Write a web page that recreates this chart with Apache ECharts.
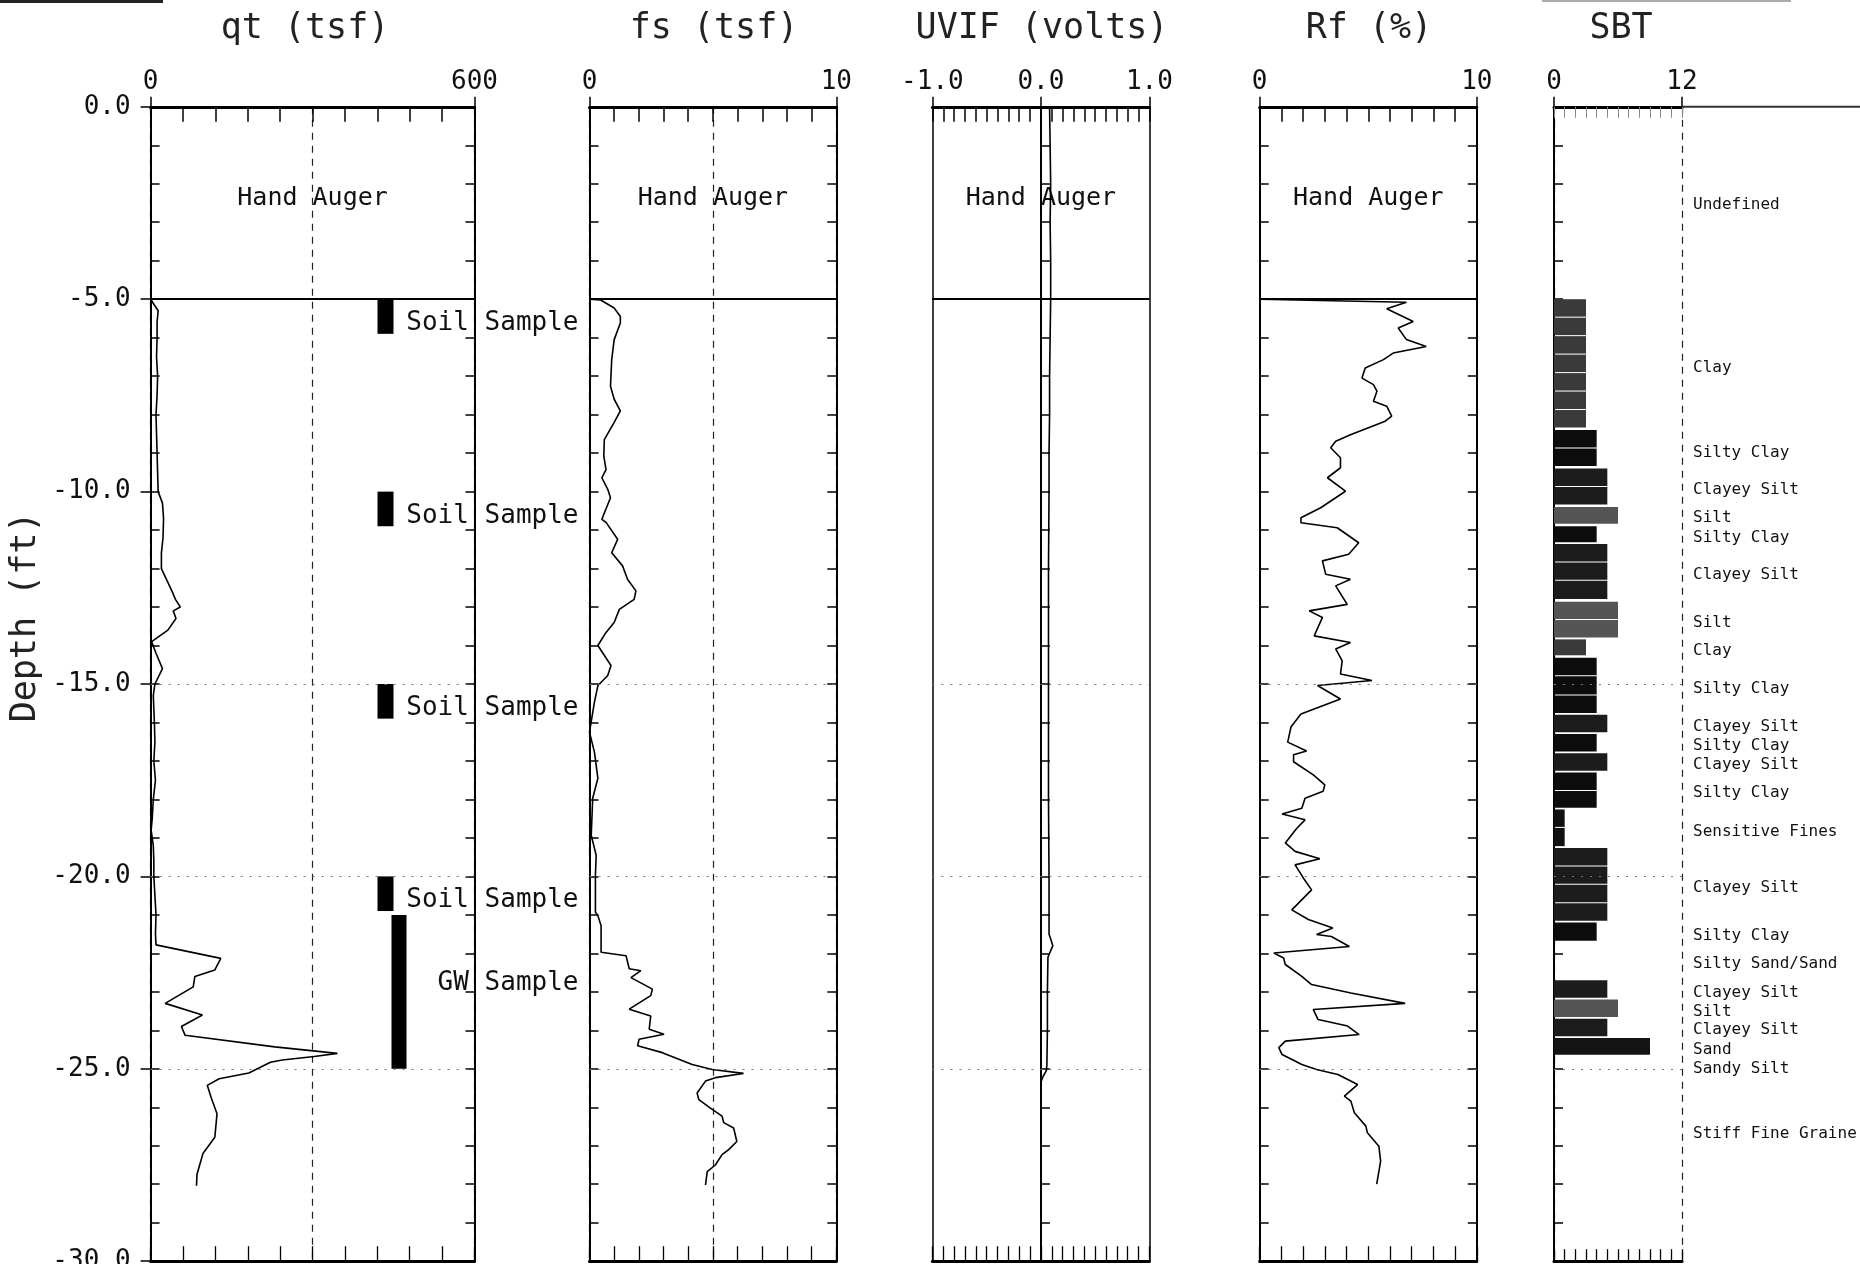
<!DOCTYPE html>
<html><head><meta charset="utf-8">
<script src="https://cdn.jsdelivr.net/npm/echarts@6.0.0/dist/echarts.min.js"></script>
<style>html,body{margin:0;padding:0;background:#fff}#c{width:1860px;height:1264px}</style>
</head><body><div id="c"></div><script>
// ---------------- data ----------------
const qtDepth = [-5.0,-5.3,-5.6,-6.0,-6.5,-7.0,-7.5,-8.0,-8.5,-9.0,-9.5,-10.0,-10.3,-10.7,-11.2,-11.6,-12.0,-12.3,-12.6,-12.8,-13.0,-13.1,-13.3,-13.6,-13.9,-14.2,-14.6,-15.0,-15.3,-16.0,-16.5,-17.0,-17.5,-18.0,-18.5,-18.8,-19.2,-19.6,-20.0,-20.5,-21.0,-21.5,-21.78,-22.13,-22.43,-22.6,-22.87,-23.3,-23.6,-23.9,-24.13,-24.43,-24.6,-24.68,-24.77,-24.83,-25.11,-25.26,-25.43,-25.74,-26.17,-26.78,-27.2,-27.74,-28.04];
const qtValue = [0,14,12,12,11,13,12,10,11,12,13,14,22,24,23,20,20,30,40,46,55,42,47,32,2,10,22,8,5,7,8,6,9,5,3,1,5,6,6,8,10,9,10,130,119,82,79,27,96,57,64,230,346,303,244,222,182,127,105,112,123,119,97,86,85];

const fsDepth = [-5.0,-5.02,-5.23,-5.45,-5.62,-6.05,-6.57,-7.26,-7.6,-7.9,-8.2,-8.65,-9.08,-9.43,-9.64,-9.94,-10.16,-10.72,-10.8,-11.24,-11.59,-11.93,-12.28,-12.58,-12.8,-13.06,-13.4,-13.66,-14.0,-14.52,-14.78,-15.04,-15.47,-16.25,-16.77,-17.45,-17.97,-18.93,-19.45,-19.97,-20.93,-21.02,-21.28,-21.97,-22.06,-22.4,-22.45,-22.63,-22.93,-23.1,-23.45,-23.63,-23.97,-24.1,-24.23,-24.4,-24.58,-24.89,-25.02,-25.12,-25.23,-25.32,-25.63,-25.8,-26.02,-26.23,-26.4,-26.54,-26.89,-27.1,-27.23,-27.5,-27.67,-28.02];
const fsValue = [0,0.45,1.0,1.25,1.25,1.0,0.9,0.85,1.0,1.25,1.0,0.6,0.58,0.67,0.5,0.74,0.85,0.5,0.67,1.14,0.9,1.34,1.54,1.88,1.81,1.21,1.0,0.67,0.34,0.87,0.74,0.34,0.2,0.0,0.2,0.34,0.13,0.07,0.27,0.24,0.24,0.34,0.47,0.47,1.48,1.61,2.08,1.68,2.55,2.48,1.61,2.48,2.42,3.02,2.01,1.95,2.95,4.16,4.97,6.24,5.1,4.7,4.36,4.43,4.9,5.37,5.44,5.84,5.97,5.64,5.37,5.1,4.77,4.7];

const uvifDepth = [0,-1,-2,-3,-4,-5,-6,-7,-8,-9,-10,-12,-14,-16,-18,-20,-21.5,-21.8,-22.1,-23,-24,-24.9,-25.05,-25.2,-25.35];
const uvifValue = [0.08,0.085,0.09,0.085,0.09,0.09,0.085,0.08,0.08,0.075,0.075,0.07,0.07,0.07,0.07,0.075,0.075,0.11,0.065,0.06,0.06,0.055,0.05,0.02,0.0];

const rfDepth = [-5.0,-5.08,-5.25,-5.58,-5.75,-6.05,-6.23,-6.40,-6.57,-6.79,-7.05,-7.22,-7.39,-7.65,-7.78,-8.04,-8.17,-8.52,-8.69,-8.86,-9.12,-9.38,-9.64,-9.99,-10.42,-10.68,-10.81,-10.94,-11.33,-11.63,-11.80,-12.15,-12.28,-12.45,-12.93,-13.10,-13.27,-13.75,-13.92,-14.09,-14.40,-14.74,-14.91,-15.04,-15.39,-15.78,-16.12,-16.51,-16.74,-16.84,-17.02,-17.36,-17.62,-17.79,-17.97,-18.23,-18.38,-18.53,-18.75,-19.13,-19.35,-19.54,-19.70,-20.04,-20.35,-20.87,-21.12,-21.34,-21.51,-21.56,-21.82,-21.99,-22.12,-22.29,-22.60,-22.81,-23.03,-23.30,-23.46,-23.72,-23.89,-24.11,-24.28,-24.45,-24.63,-24.89,-25.02,-25.15,-25.41,-25.71,-25.84,-26.14,-26.49,-26.66,-27.01,-27.40,-28.00];
const rfValue = [0,6.76,5.85,7.07,6.38,6.76,7.67,6.15,5.70,4.86,4.71,5.24,5.40,5.24,5.85,6.08,5.78,4.18,3.50,3.27,3.72,3.72,3.12,3.95,2.81,1.90,1.90,3.57,4.56,4.10,2.89,3.04,4.18,3.50,4.03,2.28,2.89,2.51,4.18,3.50,3.80,3.72,5.17,2.66,3.72,1.90,1.44,1.29,2.16,1.56,1.56,2.47,3.00,2.92,2.09,1.94,1.03,2.09,1.71,1.18,1.63,2.77,1.63,2.01,2.39,1.48,2.24,3.37,2.62,3.30,4.13,0.65,1.10,1.18,1.94,2.39,4.20,6.70,2.47,2.69,4.05,4.58,1.18,0.88,1.03,1.94,2.62,3.60,4.51,3.90,4.20,4.36,4.89,4.96,5.49,5.57,5.39];

const sbtTop    = [-5.00,-5.48,-5.96,-6.44,-6.92,-7.40,-7.88,-8.40,-8.88,-9.40,-9.88,-10.40,-10.90,-11.36,-11.84,-12.32,-12.86,-13.34,-13.84,-14.32,-14.80,-15.30,-15.80,-16.30,-16.80,-17.30,-17.78,-18.26,-18.74,-19.26,-19.74,-20.22,-20.70,-21.20,-21.72,-22.20,-22.70,-23.20,-23.70,-24.20,-24.68];
const sbtBottom = [-5.48,-5.96,-6.44,-6.92,-7.40,-7.88,-8.36,-8.88,-9.36,-9.88,-10.36,-10.86,-11.34,-11.84,-12.32,-12.82,-13.34,-13.82,-14.28,-14.80,-15.30,-15.78,-16.28,-16.78,-17.28,-17.78,-18.24,-18.74,-19.24,-19.74,-20.22,-20.70,-21.18,-21.70,-22.20,-22.68,-23.18,-23.68,-24.18,-24.66,-25.14];
const sbtZone   = [3,3,3,3,3,3,3,4,4,5,5,6,4,5,5,5,6,6,3,4,4,4,5,4,5,4,4,1,1,5,5,5,5,4,8,8,5,6,5,9,7];

const sbtLabelText  = ['Undefined','Clay','Silty Clay','Clayey Silt','Silt','Silty Clay','Clayey Silt','Silt','Clay','Silty Clay','Clayey Silt','Silty Clay','Clayey Silt','Silty Clay','Sensitive Fines','Clayey Silt','Silty Clay','Silty Sand/Sand','Clayey Silt','Silt','Clayey Silt','Sand','Sandy Silt','Stiff Fine Graine'];
const sbtLabelDepth = [-2.56,-6.78,-9.0,-9.95,-10.69,-11.19,-12.17,-13.4,-14.14,-15.13,-16.12,-16.61,-17.1,-17.84,-18.83,-20.31,-21.54,-22.28,-23.02,-23.51,-24.0,-24.5,-24.99,-26.69];

const sampleTop    = [-5.0,-10.0,-15.0,-20.0,-21.0];
const sampleBottom = [-5.9,-10.9,-15.9,-20.9,-25.0];
const sampleKind   = ['Soil','Soil','Soil','Soil','GW'];

const handAugerBottom = -5;
const gridDepths = [-15,-20,-25];
const depthTickLabels = [0,-5,-10,-15,-20,-25,-30];

// ---------------- layout / style ----------------
const FONT = "'DejaVu Sans Mono', monospace";
const GRID_TOP = 106.8, GRID_H = 1154.4;
const panels = [
  {name:'qt (tsf)',     titleX:305,  left:150.6,  width:323.9, min:0,  max:600, minor:60,  label:600, split:300, dec:0, rightTicks:true, auger:true, depth:qtDepth, vals:qtValue},
  {name:'fs (tsf)',     titleX:714,  left:589.5,  width:246.8, min:0,  max:10,  minor:1,   label:10,  split:5,   dec:0, rightTicks:true, auger:true, depth:fsDepth, vals:fsValue},
  {name:'UVIF (volts)', titleX:1042, left:932.4,  width:217,   min:-1, max:1,   minor:0.1, label:1,   split:null,dec:1, zeroAxis:true,  auger:true, depth:uvifDepth, vals:uvifValue},
  {name:'Rf (%)',       titleX:1369, left:1259.7, width:217.1, min:0,  max:10,  minor:1,   label:10,  split:null,dec:0, rightTicks:true, auger:true, depth:rfDepth, vals:rfValue},
  {name:'SBT',          titleX:1621, left:1554,   width:128,   min:0,  max:12,  minor:1,   label:12,  split:12,  dec:0, sbt:true}
];
const zoneColors = {1:'#111111',3:'#3a3a3a',4:'#0c0c0c',5:'#1c1c1c',6:'#555555',9:'#141414'};

const grid = [], xAxis = [], yAxis = [], series = [];

const dotted = gridDepths.map(d => ({yAxis:d, lineStyle:{type:[2,7], color:'#777', width:1}}));

panels.forEach((p, i) => {
  grid.push({left:p.left, top:GRID_TOP, width:p.width, height:GRID_H, outerBoundsMode:'none', containLabel:false});
  const base = {gridIndex:i, type:'value', min:p.min, max:p.max, splitLine:{show:false}};
  const xa = xAxis.length;
  xAxis.push(Object.assign({}, base, {position:'top', interval:p.label,
    axisLine:{show:true, onZero:false, lineStyle:{color:'#000', width:3}},
    axisTick:{show:true, inside:false, length:10, lineStyle:{color:'#000', width:1.5}},
    axisLabel:{show:true, margin:12, fontFamily:FONT, fontSize:26, color:'#111', formatter:v => v.toFixed(p.dec)}}));
  xAxis.push(Object.assign({}, base, {position:'top', interval:p.minor,
    axisLine:{show:false, onZero:false},
    axisTick:{show:true, inside:true, length:p.sbt?11:15, lineStyle:{color:p.sbt?'#888':'#000', width:p.sbt?1:1.5}},
    axisLabel:{show:false}}));
  xAxis.push(Object.assign({}, base, {position:'bottom', interval:p.minor,
    axisLine:{show:true, onZero:false, lineStyle:{color:'#000', width:3}},
    axisTick:{show:true, inside:true, length:p.sbt?12:15, lineStyle:{color:'#000', width:1.3}},
    axisLabel:{show:false}}));
  if (p.split != null) {
    xAxis.push(Object.assign({}, base, {position:'top', interval:p.split,
      axisLine:{show:false, onZero:false}, axisTick:{show:false}, axisLabel:{show:false},
      splitLine:{show:true, lineStyle:{type:[7,6], color:'#222', width:1.2}}}));
  }

  const ybase = {gridIndex:i, type:'value', min:-30, max:0, splitLine:{show:false}};
  const ya = yAxis.length;
  yAxis.push(Object.assign({}, ybase, {position:'left', interval:1,
    axisLine:{show:true, onZero:!!p.zeroAxis, lineStyle:{color:'#000', width:2}},
    axisTick:{show:true, inside:true, length:9, lineStyle:{color:'#000', width:1.5}},
    axisLabel: i === 0 ? {show:true, margin:20, fontFamily:FONT, fontSize:26, color:'#111',
      formatter:v => depthTickLabels.indexOf(v) >= 0 ? v.toFixed(1) : ''} : {show:false}}));
  if (i === 0) {
    yAxis.push(Object.assign({}, ybase, {position:'left', interval:5,
      axisLine:{show:false, onZero:false},
      axisTick:{show:true, inside:false, length:10, lineStyle:{color:'#000', width:1.5}},
      axisLabel:{show:false}}));
  }
  if (p.zeroAxis) {
    yAxis.push(Object.assign({}, ybase, {position:'left', axisLine:{show:true, onZero:false, lineStyle:{color:'#000', width:1.5}}, axisTick:{show:false}, axisLabel:{show:false}}));
    yAxis.push(Object.assign({}, ybase, {position:'right', axisLine:{show:true, onZero:false, lineStyle:{color:'#000', width:1.5}}, axisTick:{show:false}, axisLabel:{show:false}}));
  }
  if (p.rightTicks) {
    yAxis.push(Object.assign({}, ybase, {position:'right', interval:1,
      axisLine:{show:true, onZero:false, lineStyle:{color:'#000', width:2}},
      axisTick:{show:true, inside:true, length:9, lineStyle:{color:'#000', width:1.5}},
      axisLabel:{show:false}}));
  }

  if (!p.sbt) {
    series.push({type:'line', xAxisIndex:xa, yAxisIndex:ya, silent:true, animation:false,
      data:p.depth.map((d, k) => [p.vals[k], d]),
      symbol:'none', lineStyle:{color:'#000', width:1.6},
      markLine:{silent:true, symbol:['none','none'], label:{show:false}, animation:false,
        data:[{yAxis:handAugerBottom, lineStyle:{type:'solid', color:'#000', width:2.2}}].concat(dotted)},
      markArea:{silent:true, animation:false, itemStyle:{color:'rgba(0,0,0,0)'},
        label:{show:true, position:'inside', offset:[0,-5], formatter:'Hand Auger', fontFamily:FONT, fontSize:25, color:'#111'},
        data:[[{yAxis:0},{yAxis:handAugerBottom}]]}
    });
  } else {
    series.push({type:'custom', xAxisIndex:xa, yAxisIndex:ya, silent:true, animation:false, clip:false,
      data:sbtTop.map((t, k) => [sbtZone[k], t, sbtBottom[k]]),
      encode:{x:0, y:1},
      renderItem:(params, api) => {
        const z = api.value(0), top = api.value(1), bot = api.value(2);
        const color = zoneColors[z];
        if (!color) return null;
        const a = api.coord([0, top]), b = api.coord([z, bot]);
        return {type:'rect', shape:{x:a[0], y:a[1], width:b[0]-a[0], height:Math.max(1, b[1]-a[1]-1)}, style:{fill:color}};
      },
      markLine:{silent:true, symbol:['none','none'], label:{show:false}, animation:false, data:dotted}
    });
    series.push({type:'custom', xAxisIndex:xa, yAxisIndex:ya, silent:true, animation:false, clip:false,
      data:sbtLabelDepth.map(d => [12, d]),
      encode:{x:0, y:1},
      renderItem:(params, api) => {
        const pt = api.coord([api.value(0), api.value(1)]);
        return {type:'text', x:pt[0] + 11, y:pt[1],
          style:{text:sbtLabelText[params.dataIndex], font:'16px ' + FONT, fill:'#111',
            align:'left', textAlign:'left', verticalAlign:'middle', textVerticalAlign:'middle'}};
      }
    });
  }

  if (i === 0) {
    series.push({type:'custom', xAxisIndex:xa, yAxisIndex:ya, silent:true, animation:false, clip:false,
      data:sampleTop.map((t, k) => [p.max, t, sampleBottom[k]]),
      encode:{x:0, y:1},
      renderItem:(params, api) => {
        const top = api.value(1), bot = api.value(2);
        const kind = sampleKind[params.dataIndex];
        const a = api.coord([p.max, top]), b = api.coord([p.max, bot]);
        const right = a[0];
        const x0 = kind === 'GW' ? right - 83 : right - 97;
        const w = kind === 'GW' ? 15 : 16;
        const ty = a[1] + Math.min((b[1] - a[1]) / 2 + 7, 68);
        return {type:'group', children:[
          {type:'rect', shape:{x:x0, y:a[1], width:w, height:b[1]-a[1]}, style:{fill:'#000'}},
          {type:'text', x:right + 104, y:ty,
            style:{text:kind + ' Sample', font:'26px ' + FONT, fill:'#111',
              align:'right', textAlign:'right', verticalAlign:'middle', textVerticalAlign:'middle'}}
        ]};
      }
    });
  }
});

const graphic = panels.map(p => ({type:'text', x:p.titleX, y:29, silent:true,
  style:{text:p.name, font:'35px ' + FONT, fill:'#222', align:'center', textAlign:'center', verticalAlign:'middle', textVerticalAlign:'middle'}}));
graphic.push({type:'text', x:26, y:617, rotation:Math.PI / 2, silent:true,
  style:{text:'Depth (ft)', font:'35px ' + FONT, fill:'#222', align:'center', textAlign:'center', verticalAlign:'middle', textVerticalAlign:'middle'}});
graphic.push({type:'rect', silent:true, shape:{x:0, y:0, width:163, height:3}, style:{fill:'#222'}});
graphic.push({type:'rect', silent:true, shape:{x:1542, y:0, width:249, height:2}, style:{fill:'#aaa'}});
graphic.push({type:'line', silent:true, shape:{x1:1682, y1:GRID_TOP, x2:1860, y2:GRID_TOP}, style:{stroke:'#333', lineWidth:2}});

const chart = echarts.init(document.getElementById('c'), null, {renderer:'canvas', devicePixelRatio:1});
chart.setOption({animation:false, backgroundColor:'#fff', grid, xAxis, yAxis, series, graphic});
</script></body></html>
